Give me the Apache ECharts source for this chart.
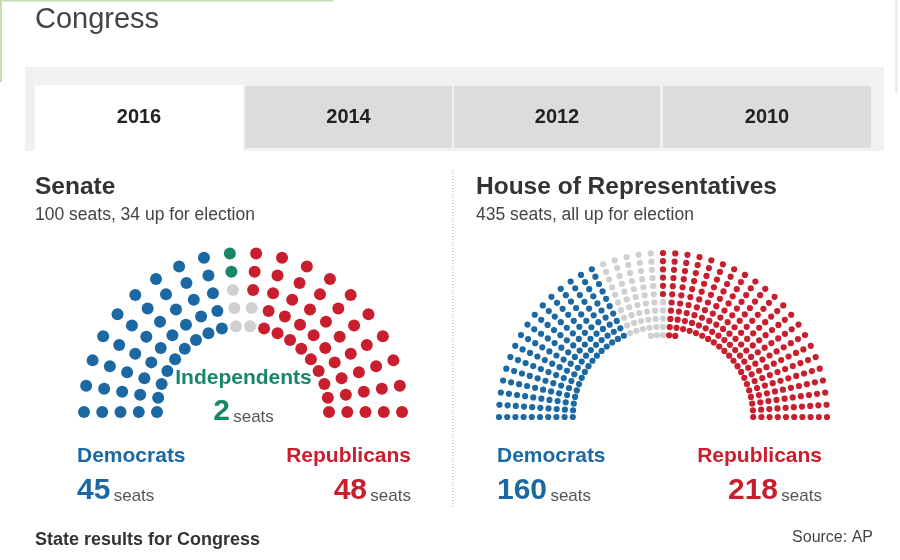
<!DOCTYPE html>
<html>
<head>
<meta charset="utf-8">
<script src="https://cdn.jsdelivr.net/npm/echarts@6/dist/echarts.min.js"></script>
<style>
  html, body { margin: 0; padding: 0; background: #fff; }
  #chart { width: 900px; height: 560px; }
</style>
</head>
<body>
<div id="chart"></div>
<script>
// data
const tabYears = ['2016', '2014', '2012', '2010'];
const partyNames = ['Democrats', 'Independents', 'Undecided', 'Republicans'];
const senateSeats = [45, 2, 5, 48];
const houseSeats = [160, 0, 57, 218];
const senateTotal = 100;
const senateUp = 34;
const houseTotal = 435;

const colors = ['#1c68a3', '#17876a', '#d0d0d0', '#c81e2d'];
const font = '"Liberation Sans", Arial, sans-serif';

// spokes of seats, outer seat first
function spokeLayout(sizes, step) {
    const n = sizes.length;
    return sizes.map(function (size, i) {
        const a = Math.PI - i * Math.PI / (n - 1);
        const seats = [];
        for (let k = 0; k < size; k++) {
            const r = 1 - k * step;
            seats.push([r * Math.cos(a), r * Math.sin(a)]);
        }
        return seats;
    });
}

// dems + independents fill from the left, republicans from the right, rest undecided
function assignSeats(spokes, seats) {
    const out = [[], [], [], []];
    const flatLeft = [];
    spokes.forEach(function (s) { s.forEach(function (p) { flatLeft.push(p); }); });
    const flatRight = [];
    spokes.slice().reverse().forEach(function (s) { s.forEach(function (p) { flatRight.push(p); }); });
    const used = new Set();
    let idx = 0;
    for (let p = 0; p < 2; p++) {
        for (let c = 0; c < seats[p]; c++) {
            out[p].push(flatLeft[idx]);
            used.add(flatLeft[idx]);
            idx++;
        }
    }
    for (let c = 0; c < seats[3]; c++) {
        out[3].push(flatRight[c]);
        used.add(flatRight[c]);
    }
    flatLeft.forEach(function (p) { if (!used.has(p)) out[2].push(p); });
    return out;
}

const senateSpokes = spokeLayout(new Array(senateTotal / 5).fill(5), (1 - 0.541) / 4);
const houseSizes = [];
for (let i = 0; i < 43; i++) houseSizes.push(i >= 19 && i <= 23 ? 11 : 10);
const houseSpokes = spokeLayout(houseSizes, 0.05);

const senateData = assignSeats(senateSpokes, senateSeats);
const houseData = assignSeats(houseSpokes, houseSeats);

const chart = echarts.init(document.getElementById('chart'));

const hiddenAxis = function (min, max, idx) {
    return {
        type: 'value', min: min, max: max, gridIndex: idx,
        show: false, splitLine: { show: false }
    };
};

const series = [];
partyNames.forEach(function (name, p) {
    series.push({
        name: name, type: 'scatter', xAxisIndex: 0, yAxisIndex: 0,
        data: senateData[p], symbolSize: 12, clip: false, silent: true,
        itemStyle: { color: colors[p], opacity: 1 }
    });
    series.push({
        name: name, type: 'scatter', xAxisIndex: 1, yAxisIndex: 1,
        data: houseData[p], symbolSize: 6.2, clip: false, silent: true,
        itemStyle: { color: colors[p], opacity: 1 }
    });
});

const graphics = [];
// frame bits in the corners
graphics.push({ type: 'rect', shape: { x: 0, y: 0, width: 333, height: 1.5 }, style: { fill: '#c5ddb0' } });
graphics.push({ type: 'rect', shape: { x: 0, y: 0, width: 2, height: 82 }, style: { fill: '#c5ddb0' } });
graphics.push({ type: 'rect', shape: { x: 895, y: 0, width: 3, height: 93 }, style: { fill: '#eeeeee' } });

graphics.push({ type: 'text', x: 35, y: 20,
    style: { text: 'Congress', font: '29px ' + font, fill: '#444', verticalAlign: 'middle' } });

// tabs
graphics.push({ type: 'rect', shape: { x: 25, y: 67, width: 859, height: 84 }, style: { fill: '#f1f1f1' } });
const tabX = [35, 245, 454, 663];
const tabW = [208, 207, 206, 208];
tabYears.forEach(function (y, i) {
    graphics.push({ type: 'rect', shape: { x: tabX[i], y: i === 0 ? 85 : 86, width: tabW[i], height: i === 0 ? 66 : 62 },
        style: { fill: i === 0 ? '#ffffff' : '#dcdcdc' } });
    graphics.push({ type: 'text', x: tabX[i] + tabW[i] / 2, y: 117,
        style: { text: y, font: 'bold 20px ' + font, fill: '#222', align: 'center', verticalAlign: 'middle' } });
});

// section headers
function header(x, title, sub) {
    graphics.push({ type: 'text', x: x, y: 187,
        style: { text: title, font: 'bold 24.5px ' + font, fill: '#333', verticalAlign: 'middle' } });
    graphics.push({ type: 'text', x: x, y: 215,
        style: { text: sub, font: '17.5px ' + font, fill: '#444', verticalAlign: 'middle' } });
}
header(35, 'Senate', senateTotal + ' seats, ' + senateUp + ' up for election');
header(476, 'House of Representatives', houseTotal + ' seats, all up for election');

graphics.push({ type: 'line', shape: { x1: 453, y1: 170, x2: 453, y2: 507 },
    style: { stroke: '#aaa', lineWidth: 1, lineDash: [1, 2] } });

// party labels
function seatText(x, y, align, p, count) {
    graphics.push({ type: 'text', x: x, y: y,
        style: {
            text: '{n|' + count + '} {s|seats}', align: align, verticalAlign: 'middle',
            rich: {
                n: { font: 'bold 30px ' + font, fill: colors[p], verticalAlign: 'bottom' },
                s: { font: '17px ' + font, fill: '#555', verticalAlign: 'bottom', padding: [0, 0, 1, 0] }
            }
        } });
}
function partyLabel(x, align, p, count) {
    graphics.push({ type: 'text', x: x, y: 456,
        style: { text: partyNames[p], font: 'bold 21px ' + font, fill: colors[p], align: align, verticalAlign: 'middle' } });
    seatText(x, 491, align, p, count);
}
partyLabel(77, 'left', 0, senateSeats[0]);
partyLabel(411, 'right', 3, senateSeats[3]);
partyLabel(497, 'left', 0, houseSeats[0]);
partyLabel(822, 'right', 3, houseSeats[3]);

graphics.push({ type: 'text', x: 243.5, y: 378,
    style: { text: partyNames[1], font: 'bold 21px ' + font, fill: colors[1], align: 'center', verticalAlign: 'middle' } });
seatText(243.5, 412, 'center', 1, senateSeats[1]);

graphics.push({ type: 'text', x: 35, y: 540,
    style: { text: 'State results for Congress', font: 'bold 18px ' + font, fill: '#333', verticalAlign: 'middle' } });
graphics.push({ type: 'text', x: 873, y: 538,
    style: { text: 'Source: AP', font: '16px ' + font, fill: '#444', align: 'right', verticalAlign: 'middle' } });

chart.setOption({
    backgroundColor: '#ffffff',
    animation: false,
    grid: [
        { left: 84, top: 253, width: 318, height: 159 },
        { left: 499, top: 253, width: 328, height: 164 }
    ],
    xAxis: [hiddenAxis(-1, 1, 0), hiddenAxis(-1, 1, 1)],
    yAxis: [hiddenAxis(0, 1, 0), hiddenAxis(0, 1, 1)],
    series: series,
    graphic: graphics
});
</script>
</body>
</html>
